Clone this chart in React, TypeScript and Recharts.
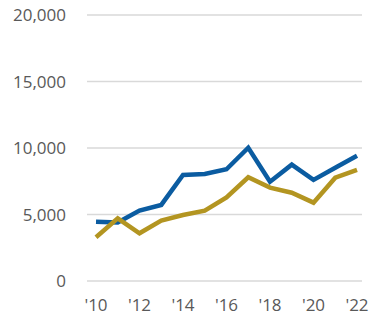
import { CartesianGrid, Line, LineChart, XAxis, YAxis } from "recharts";

const years = ["'10", "'11", "'12", "'13", "'14", "'15", "'16", "'17", "'18", "'19", "'20", "'21", "'22"];
const blueSeries = [4460, 4400, 5290, 5720, 7970, 8050, 8400, 10020, 7470, 8750, 7600, 8520, 9420];
const goldSeries = [3290, 4710, 3590, 4540, 4960, 5290, 6290, 7800, 7020, 6640, 5890, 7770, 8350];
const yTicks = [0, 5000, 10000, 15000, 20000];
const xTicks = ["'10", "'12", "'14", "'16", "'18", "'20", "'22"];

const data = years.map((year, i) => ({
  year,
  blue: blueSeries[i],
  gold: goldSeries[i],
}));

const tickStyle = { fill: "#595959", fontSize: 17, fontFamily: "Open Sans" };

const App = () => {
  return (
    <div style={{ position: "absolute", left: 0, top: 0, width: 369, height: 317, background: "#fff" }}>
      <LineChart
        width={369}
        height={317}
        data={data}
        margin={{ top: 15, right: 7, left: 0, bottom: 0 }}
      >
        <CartesianGrid vertical={false} stroke="#d9d9d9" strokeWidth={1.3} />
        <XAxis
          dataKey="year"
          ticks={xTicks}
          interval={0}
          axisLine={false}
          tickLine={false}
          tickSize={0}
          tickMargin={18}
          height={36}
          padding={{ left: 9, right: 5 }}
          tick={tickStyle}
        />
        <YAxis
          domain={[0, 20000]}
          ticks={yTicks}
          width={87}
          axisLine={false}
          tickLine={false}
          tickSize={0}
          tickMargin={21}
          tick={tickStyle}
          tickFormatter={(v: number) => v.toLocaleString("en-US")}
        />
        <Line
          type="linear"
          dataKey="blue"
          stroke="#0b5ca1"
          strokeWidth={4.5}
          dot={false}
          isAnimationActive={false}
        />
        <Line
          type="linear"
          dataKey="gold"
          stroke="#b39521"
          strokeWidth={4.5}
          dot={false}
          isAnimationActive={false}
        />
      </LineChart>
    </div>
  );
};

export default App;
